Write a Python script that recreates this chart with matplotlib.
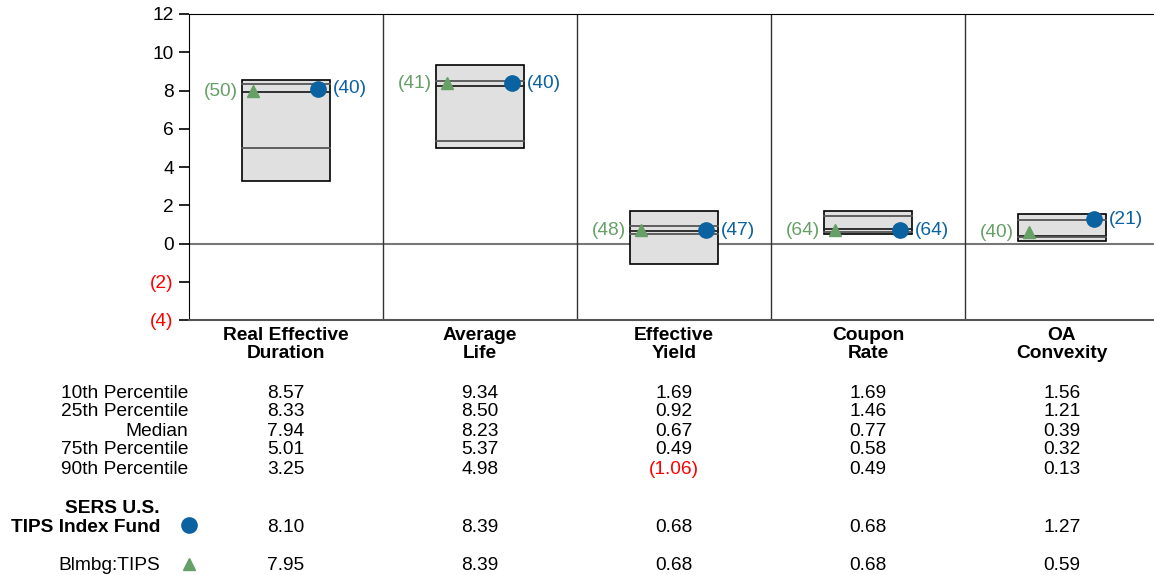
import numpy as np
import matplotlib
matplotlib.use('Agg')
import matplotlib.pyplot as plt
from matplotlib.patches import Rectangle
from matplotlib.transforms import blended_transform_factory

plt.rcParams['font.family'] = ['Liberation Sans', 'DejaVu Sans']

categories = ['Real Effective\nDuration', 'Average\nLife', 'Effective\nYield',
              'Coupon\nRate', 'OA\nConvexity']
p10 = [8.57, 9.34, 1.69, 1.69, 1.56]
p25 = [8.33, 8.50, 0.92, 1.46, 1.21]
median = [7.94, 8.23, 0.67, 0.77, 0.39]
p75 = [5.01, 5.37, 0.49, 0.58, 0.32]
p90 = [3.25, 4.98, -1.06, 0.49, 0.13]
fundVal = [8.10, 8.39, 0.68, 0.68, 1.27]
fundRank = [40, 40, 47, 64, 21]
idxVal = [7.95, 8.39, 0.68, 0.68, 0.59]
idxRank = [50, 41, 48, 64, 40]
rowNames = ['10th Percentile', '25th Percentile', 'Median', '75th Percentile', '90th Percentile']

blue = '#0b62a0'
green = '#66a066'
red = '#ff0000'
fs = 13.8

W, H = 1154, 575
f = plt.figure(figsize=(W / 100, H / 100), dpi=100)
ax = f.add_axes([189 / W, (H - 320) / H, (1159 - 189) / W, 306 / H])

ax.set_xlim(-0.5, 4.5)
ax.set_ylim(-4, 12)

# boxes: 10th to 90th percentile, lines at quartiles and median
for i in range(5):
    lo, hi = p90[i], p10[i]
    ax.add_patch(Rectangle((i - 0.225, lo), 0.45, hi - lo, facecolor='#e0e0e0',
                           edgecolor='black', lw=1.2, zorder=2))
    for v, c in [(p25[i], '#555555'), (median[i], '#222222'), (p75[i], '#555555')]:
        ax.plot([i - 0.225, i + 0.225], [v, v], color=c, lw=1.3, zorder=3)
    ax.plot(i + 0.165, fundVal[i], 'o', color=blue, ms=11, zorder=5)
    ax.plot(i - 0.17, idxVal[i], '^', color=green, ms=9, zorder=5)
    ax.annotate(f'({fundRank[i]})', (i + 0.165, fundVal[i]), xytext=(11, 0),
                textcoords='offset points', ha='left', va='center', color=blue, fontsize=fs)
    ax.annotate(f'({idxRank[i]})', (i - 0.17, idxVal[i]), xytext=(-11, 0),
                textcoords='offset points', ha='right', va='center', color=green, fontsize=fs)

ax.axhline(0, color='#777777', lw=1.5, zorder=1)
for x in [0.5, 1.5, 2.5, 3.5]:
    ax.axvline(x, color='#333333', lw=1.0, zorder=1)

yt = np.arange(-4, 13, 2)
ax.set_yticks(yt)
ax.set_yticklabels([str(v) if v >= 0 else f'({-v})' for v in yt], fontsize=fs)
for lab, v in zip(ax.get_yticklabels(), yt):
    if v < 0:
        lab.set_color(red)
ax.tick_params(axis='y', length=7, width=1.2, pad=4)
ax.set_xticks(range(5))
ax.set_xticklabels(categories, fontsize=fs, fontweight='bold', linespacing=1.08)
ax.tick_params(axis='x', length=0, pad=5)
ax.spines['bottom'].set_color('#555555')
ax.spines['bottom'].set_linewidth(1.5)

# table under the chart
tr = blended_transform_factory(ax.transData, f.transFigure)
rowY = [394, 412, 431, 450, 469]
cols = [p10, p25, median, p75, p90]
for name, y, vals in zip(rowNames, rowY, cols):
    f.text(188 / W, 1 - y / H, name, ha='right', va='center', fontsize=fs)
    for i, v in enumerate(vals):
        s = f'{v:.2f}' if v >= 0 else f'({-v:.2f})'
        ax.text(i, 1 - y / H, s, transform=tr, ha='center', va='center', fontsize=fs,
                color=red if v < 0 else 'black')

f.text(160 / W, 1 - 518 / H, 'SERS U.S.\nTIPS Index Fund', ha='right', va='center',
       fontsize=fs, fontweight='bold', linespacing=1.08)
f.text(160 / W, 1 - 566 / H, 'Blmbg:TIPS', ha='right', va='center', fontsize=fs)
mk = f.add_axes([0, 0, 1, 1], facecolor='none')
mk.set_xlim(0, W)
mk.set_ylim(H, 0)
mk.axis('off')
mk.plot(189, 525, 'o', color=blue, ms=11)
mk.plot(189, 564, '^', color=green, ms=9)
for i in range(5):
    ax.text(i, 1 - 527 / H, f'{fundVal[i]:.2f}', transform=tr, ha='center', va='center', fontsize=fs)
    ax.text(i, 1 - 566 / H, f'{idxVal[i]:.2f}', transform=tr, ha='center', va='center', fontsize=fs)

f.savefig('out.png', dpi=100)
